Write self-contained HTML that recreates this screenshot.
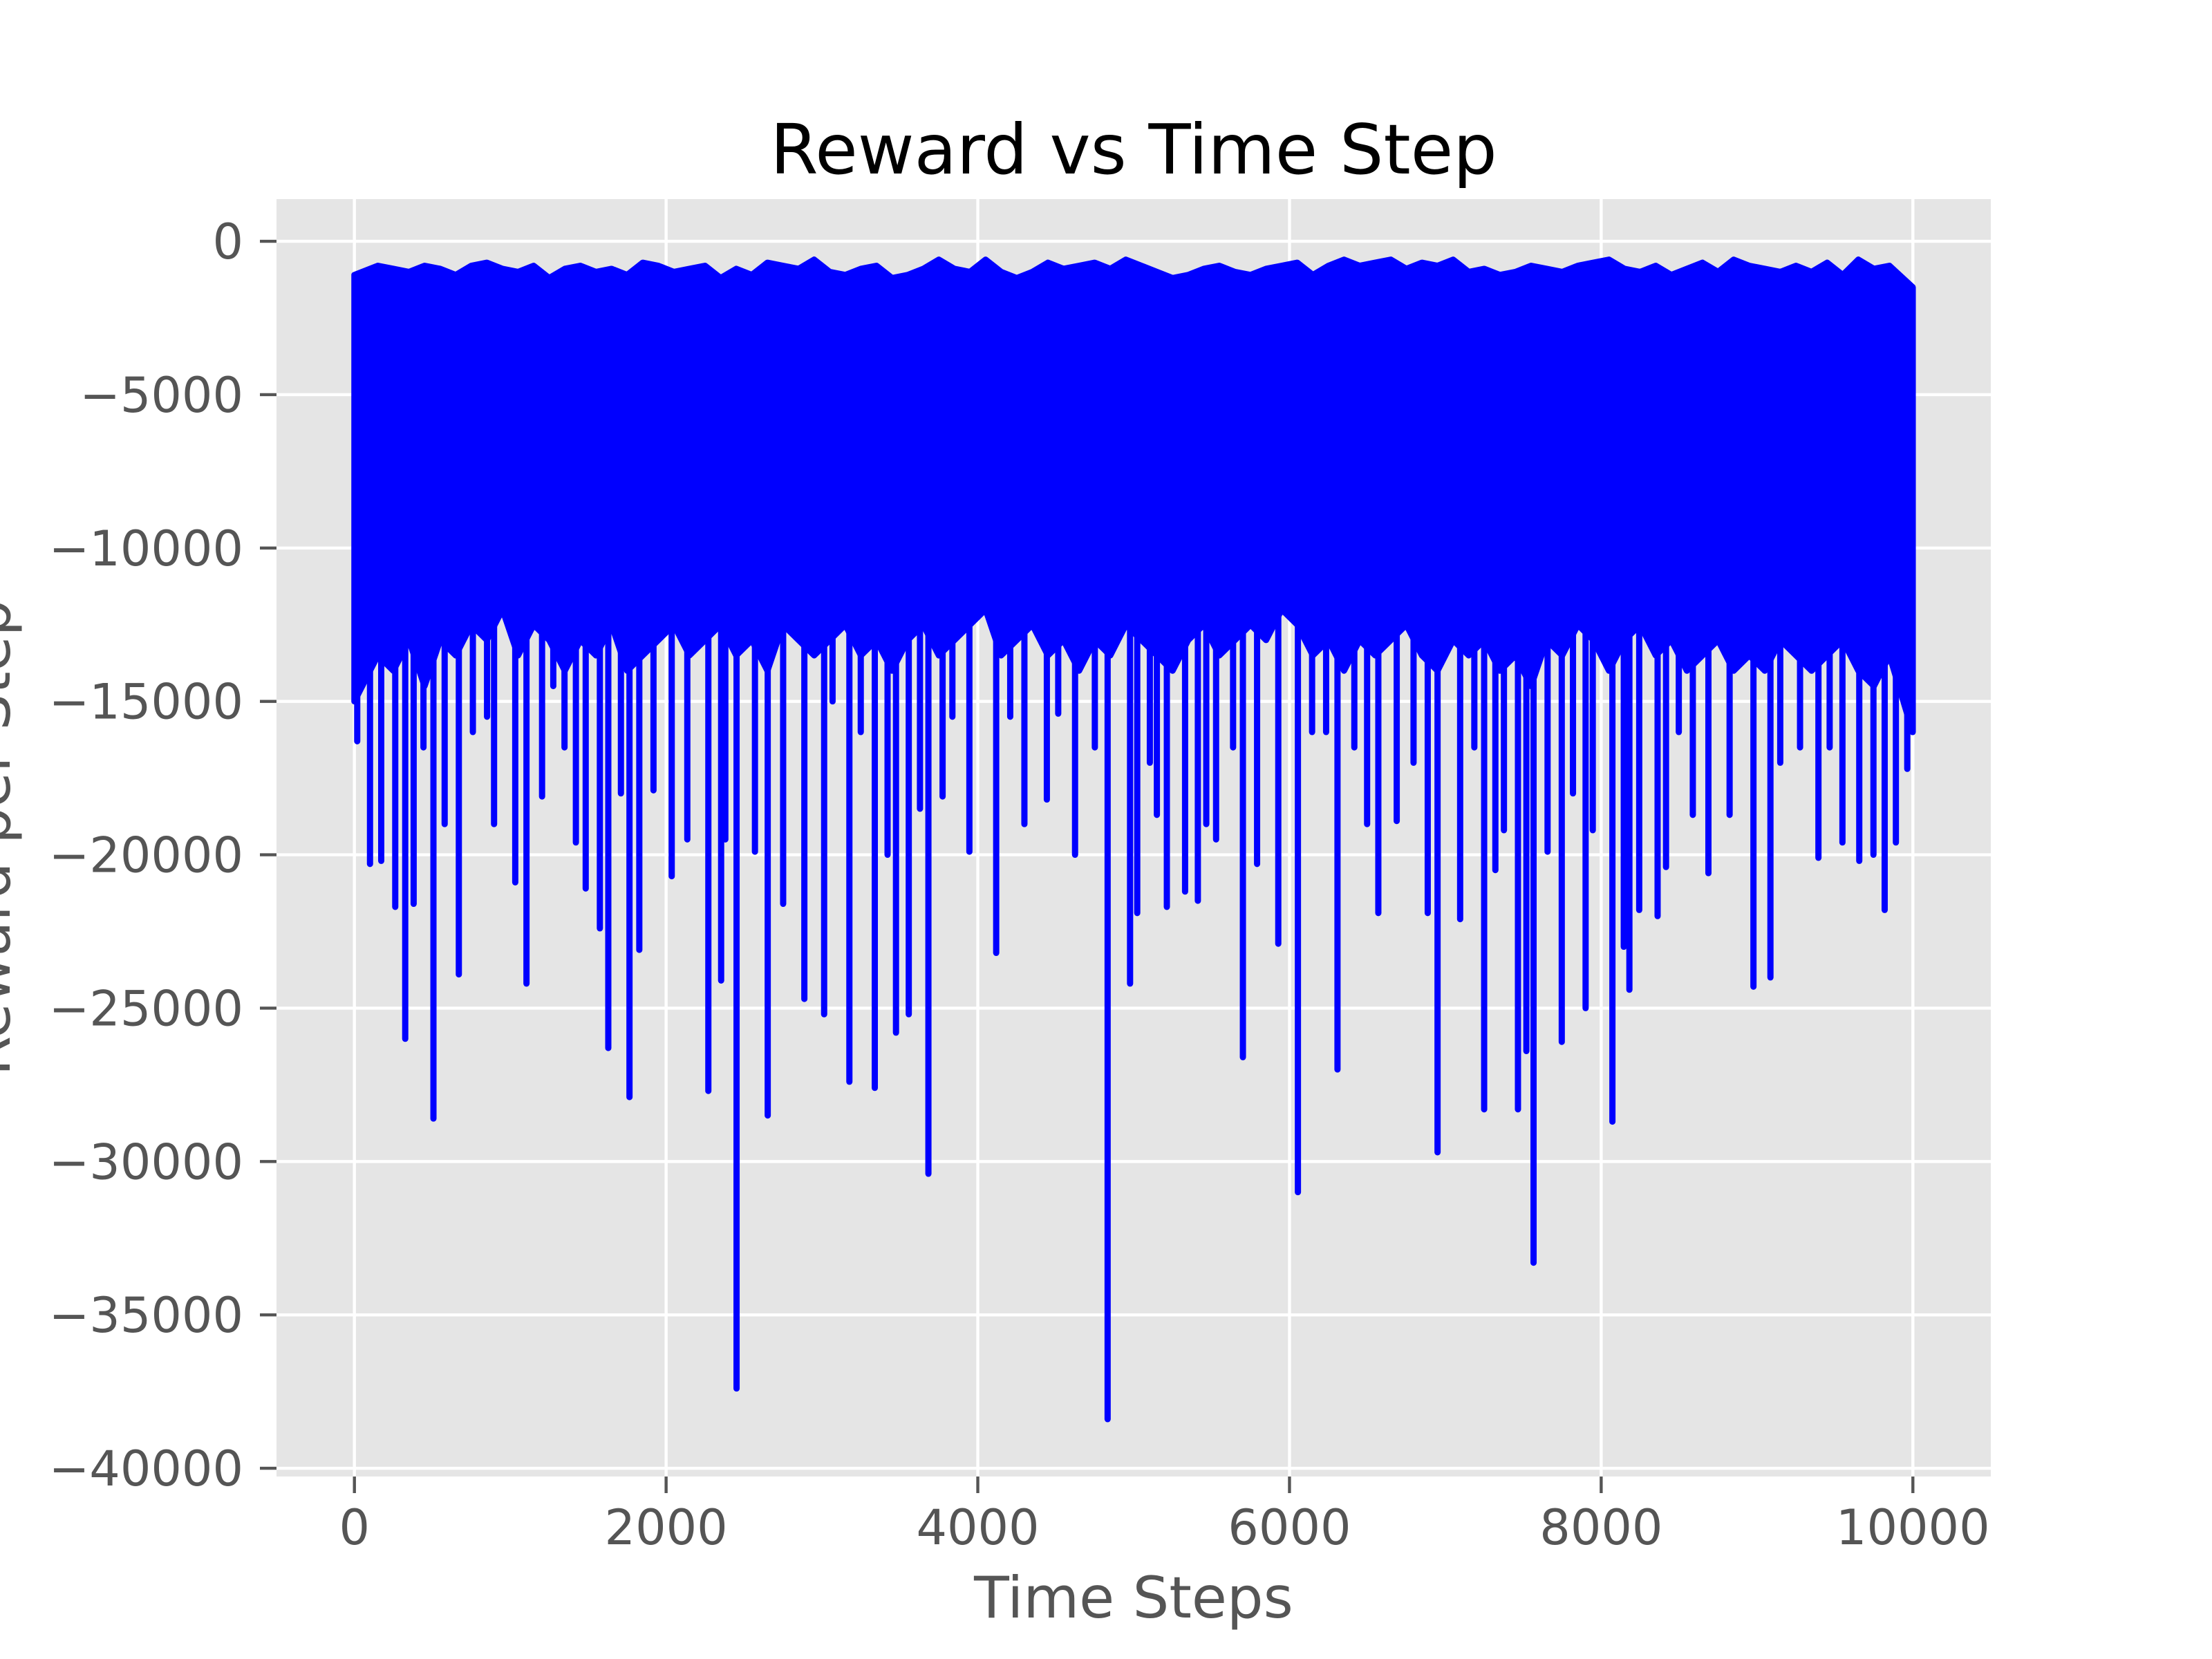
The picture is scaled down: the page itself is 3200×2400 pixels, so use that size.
<!DOCTYPE html>
<html><head><meta charset="utf-8"><style>
html,body{margin:0;padding:0;background:#fff;}
svg{display:block;}
text{font-family:"DejaVu Sans","Liberation Sans",sans-serif;}
</style></head><body>
<svg id="chart" width="3200" height="2400" viewBox="0 0 3200 2400" xmlns="http://www.w3.org/2000/svg">
<rect x="0" y="0" width="3200" height="2400" fill="#ffffff"/>
<rect x="400" y="288" width="2480" height="1848" fill="#E5E5E5"/>
<g id="grid"></g>
<g id="series"></g>
<g id="axes"></g>
<text x="1640" y="251" font-size="100" text-anchor="middle" fill="#000">Reward vs Time Step</text>
<text x="1640" y="2340" font-size="83" text-anchor="middle" fill="#555555">Time Steps</text>
<text transform="translate(14,1212) rotate(-90)" font-size="83" text-anchor="middle" fill="#555555">Reward per Step</text>
</svg>
<script>
const xTicks = [0, 2000, 4000, 6000, 8000, 10000];
const yTicks = [0, -5000, -10000, -15000, -20000, -25000, -30000, -35000, -40000];
// envelope of the dense signal per 100-step bin
const bandHigh = [-1100,-800,-900,-1000,-800,-900,-1100,-800,-700,-900,-1000,-800,-1200,-900,-800,-1000,-900,-1100,-700,-800,-1000,-900,-800,-1200,-900,-1100,-700,-800,-900,-600,-1000,-1100,-900,-800,-1200,-1100,-900,-600,-900,-1000,-600,-1000,-1200,-1000,-700,-900,-800,-700,-900,-600,-800,-1000,-1200,-1100,-900,-800,-1000,-1100,-900,-800,-700,-1100,-800,-600,-800,-700,-600,-900,-700,-800,-600,-1000,-900,-1100,-1000,-800,-900,-1000,-800,-700,-600,-900,-1000,-800,-1100,-900,-700,-1000,-600,-800,-900,-1000,-800,-1000,-700,-1100,-600,-900,-800,-1500];
const bandLow = [-15000,-13500,-14000,-13000,-14500,-13000,-13500,-12500,-13000,-12000,-13500,-12500,-13000,-14000,-13000,-13500,-12500,-14000,-13500,-13000,-12500,-13500,-13000,-12500,-13500,-13000,-14000,-12500,-13000,-13500,-13000,-12500,-13500,-13000,-14000,-13000,-12500,-13500,-13000,-12500,-12000,-13500,-13000,-12500,-13500,-13000,-14000,-13000,-13500,-12500,-13000,-13500,-14000,-13000,-12500,-13500,-13000,-12500,-13000,-12000,-12500,-13500,-13000,-14000,-13000,-13500,-13000,-12500,-13500,-14000,-13000,-13500,-13000,-14000,-13500,-14500,-13000,-13500,-12500,-13000,-14000,-13000,-12500,-13500,-13000,-14000,-13500,-13000,-14000,-13500,-14000,-13000,-13500,-14000,-13500,-13000,-14000,-14500,-13500,-16000];
const spikeSteps = [18,100,172,262,326,380,443,507,579,670,760,851,896,1032,1104,1204,1276,1348,1421,1484,1575,1629,1710,1765,1828,1919,2036,2136,2271,2353,2380,2452,2570,2652,2751,2887,3014,3068,3176,3249,3339,3421,3475,3557,3629,3683,3774,3837,3946,4118,4208,4299,4443,4516,4624,4751,4833,4977,5023,5104,5149,5213,5330,5412,5466,5529,5638,5701,5792,5928,6054,6145,6235,6308,6416,6498,6570,6688,6796,6887,6950,7095,7186,7249,7321,7376,7466,7520,7566,7656,7747,7819,7900,7946,8072,8145,8181,8244,8362,8416,8498,8588,8688,8824,8977,9086,9149,9276,9394,9466,9548,9656,9747,9819,9891,9964];
const spikeValues = [-16300,-20300,-20200,-21700,-26000,-21600,-16500,-28600,-19000,-23900,-16000,-15500,-19000,-20900,-24200,-18100,-14500,-16500,-19600,-21100,-22400,-26300,-18000,-27900,-23100,-17900,-20700,-19500,-27700,-24100,-19500,-37400,-19900,-28500,-21600,-24700,-25200,-15000,-27400,-16000,-27600,-20000,-25800,-25200,-18500,-30400,-18100,-15500,-19900,-23200,-15500,-19000,-18200,-15400,-20000,-16500,-38400,-24200,-21900,-17000,-18700,-21700,-21200,-21500,-19000,-19500,-16500,-26600,-20300,-22900,-31000,-16000,-16000,-27000,-16500,-19000,-21900,-18900,-17000,-21900,-29700,-22100,-16500,-28300,-20500,-19200,-28300,-26400,-33300,-19900,-26100,-18000,-25000,-19200,-28700,-23000,-24400,-21800,-22000,-20400,-16000,-18700,-20600,-18700,-24300,-24000,-17000,-16500,-20100,-16500,-19600,-20200,-20000,-21800,-19600,-17200];

const NS = 'http://www.w3.org/2000/svg';
const L = 400, R = 2880, T = 288, B = 2136;
const xMin = -500, xMax = 10500, yMin = -40270, yMax = 1375;
const sx = v => L + (v - xMin) / (xMax - xMin) * (R - L);
const sy = v => T + (yMax - v) / (yMax - yMin) * (B - T);
const grid = document.getElementById('grid');
const axes = document.getElementById('axes');
const series = document.getElementById('series');
function mk(tag, attrs, parent) {
  const e = document.createElementNS(NS, tag);
  for (const k in attrs) e.setAttribute(k, attrs[k]);
  parent.appendChild(e);
  return e;
}
const fmt = v => (v < 0 ? '\u2212' + Math.abs(v) : String(v));

xTicks.forEach(v => {
  const g = mk('line', {x1: sx(v), x2: sx(v), y1: T, y2: B, stroke: '#fff', 'stroke-width': 4.4}, grid);
  
  
  const t = mk('line', {x1: sx(v), x2: sx(v), y1: B, y2: B + 24, stroke: '#555', 'stroke-width': 4.4}, axes);
  
  
  const lb = mk('text', {x: sx(v), y: B + 98, 'font-size': 70, 'text-anchor': 'middle', fill: '#555555'}, axes);
  lb.textContent = fmt(v);
  
  
});
yTicks.forEach(v => {
  const g = mk('line', {x1: L, x2: R, y1: sy(v), y2: sy(v), stroke: '#fff', 'stroke-width': 4.4}, grid);
  
  
  const t = mk('line', {x1: L - 24, x2: L, y1: sy(v), y2: sy(v), stroke: '#555', 'stroke-width': 4.4}, axes);
  
  
  const lb = mk('text', {x: L - 48, y: sy(v) + 25, 'font-size': 70, 'text-anchor': 'end', fill: '#555555'}, axes);
  lb.textContent = fmt(v);
  
  
});

// dense band as zigzag area
const n = bandHigh.length;
const bx = i => (i === 0 ? 0 : (i === n - 1 ? 9999 : i * 100 + 50));
let pts = [];
for (let i = 0; i < n; i++) pts.push(sx(bx(i)) + ',' + sy(bandHigh[i]));
for (let i = n - 1; i >= 0; i--) pts.push(sx(bx(i)) + ',' + sy(bandLow[i]));
const band = mk('polygon', {points: pts.join(' '), fill: '#0000ff', stroke: '#0000ff', 'stroke-width': 9, 'stroke-linejoin': 'round'}, series);



spikeSteps.forEach((s, i) => {
  const ln = mk('line', {x1: sx(s), x2: sx(s), y1: sy(-8000), y2: sy(spikeValues[i]), stroke: '#0000ff', 'stroke-width': 9, 'stroke-linecap': 'round'}, series);
  
  
});
</script>
</body></html>
